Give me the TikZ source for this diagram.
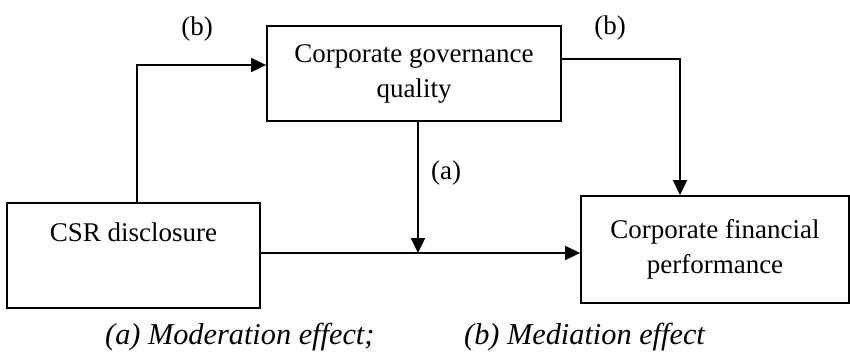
\documentclass[tikz,border=0pt]{standalone}
\usepackage{fontspec}
\setmainfont{Liberation Serif}
\usetikzlibrary{arrows.meta}
\def\lw{1.8pt}
\newcommand{\bodyfont}{\fontsize{27}{35}\selectfont}
\newcommand{\capfont}{\fontsize{30.3}{36}\selectfont\itshape}
\begin{document}
\begin{tikzpicture}[x=1pt, y=-1pt,
    every node/.style={font=\bodyfont},
    box/.style={draw, line width=\lw, align=center, inner sep=0pt},
    arr/.style={line width=\lw, -{Triangle[length=15pt, width=14pt]}}]
    \useasboundingbox (0,0) rectangle (850,355);
    \node[box, minimum width=294, minimum height=95] (cg) at (414, 73.5) {Corporate governance\\quality};
    \node[box, minimum width=253, minimum height=105] (csr) at (133.5, 255.5) {CSR disclosure\\[2pt]\strut};
    \node[box, minimum width=268, minimum height=107] (cfp) at (715, 249.5) {Corporate financial\\performance};
    \coordinate (kneeL) at (137, 65);
    \coordinate (kneeR) at (680, 59);
    \coordinate (mid) at (418, 253);
    \draw[arr] (kneeL |- csr.north) -- (kneeL) -- (kneeL -| cg.west);
    \draw[arr] (kneeR -| cg.east) -- (kneeR) -- (kneeR |- cfp.north);
    \draw[arr] (mid -| csr.east) -- (mid -| cfp.west);
    \draw[arr] (cg.south -| mid) -- (mid);
    \node (labL) at (197, 29) {(b)};
    \node (labR) at (610, 28) {(b)};
    \node (labA) at (446, 173) {(a)};
    \node[font=\capfont, anchor=base west, inner sep=0pt] (capA) at (105, 344) {(a) Moderation effect;};
    \node[font=\capfont, anchor=base west, inner sep=0pt] (capB) at (464, 344) {(b) Mediation effect};
\end{tikzpicture}
\end{document}
